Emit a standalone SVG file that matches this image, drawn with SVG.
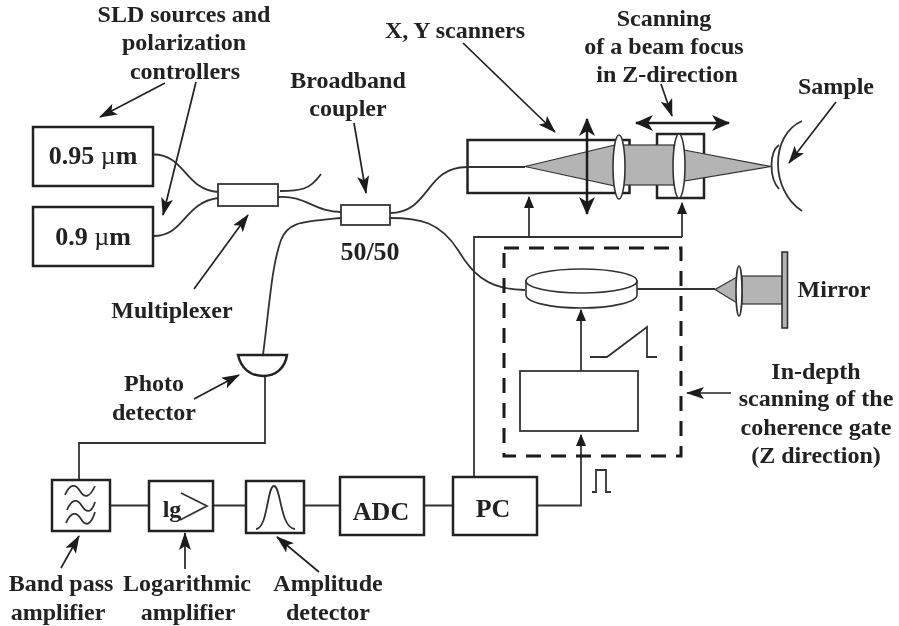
<svg xmlns="http://www.w3.org/2000/svg" width="899" height="626" viewBox="0 0 899 626">
<defs>
<marker id="ah" viewBox="0 0 18 12" refX="17" refY="6" markerWidth="18" markerHeight="12" markerUnits="userSpaceOnUse" orient="auto-start-reverse"><path d="M0 0L18 6L0 12L4 6Z" fill="#1a1a1a"/></marker>
<marker id="big" viewBox="0 0 18 16" refX="17" refY="8" markerWidth="18" markerHeight="16" markerUnits="userSpaceOnUse" orient="auto-start-reverse"><path d="M0 0L18 8L0 16L5 8Z" fill="#1a1a1a"/></marker>
<marker id="tri" viewBox="0 0 12 10" refX="11" refY="5" markerWidth="12" markerHeight="10" markerUnits="userSpaceOnUse" orient="auto"><path d="M0 0L12 5L0 10Z" fill="#1a1a1a"/></marker>
<filter id="soft" x="0" y="0" width="100%" height="100%"><feGaussianBlur stdDeviation="0.45"/></filter>
</defs>
<style>
text{font-family:"Liberation Serif","Times New Roman",serif;font-weight:bold;font-size:24px;fill:#222;text-anchor:middle}
.big{font-size:26px}
.b{fill:#fff;stroke:#222;stroke-width:2.5}
.t{fill:#fff;stroke:#333;stroke-width:1.8}
.l{fill:none;stroke:#333;stroke-width:1.8}
.a{fill:none;stroke:#222;stroke-width:1.7;marker-end:url(#ah)}
.u{fill:none;stroke:#333;stroke-width:1.8;marker-end:url(#tri)}
.g{fill:#b4b4b4;stroke:#333;stroke-width:1.2}
.w{fill:#fff;stroke:#333;stroke-width:1.6}
</style>
<rect width="899" height="626" fill="#fff"/>
<g filter="url(#soft)">
<g id="connectors">
<path class="l" d="M153 154.500C185 154 185 190 218 192"/>
<path class="l" d="M153 236C185 236 183 203 218 198"/>
<path class="l" d="M280 191C300 191 310 190 321 174"/>
<path class="l" d="M278 197C305 195 315 212 341 212"/>
<path class="l" d="M390 213C430 213 425 167 467 167"/>
<path class="l" d="M390 218C420 218 440 222 458 250C470 270 485 290 525 290"/>
<path class="l" d="M341 218C300 222 288 222 281 240C272 265 270 300 263 355"/>
<path class="l" d="M265 376V443H79V480"/>
<path class="l" d="M110 505.500H149M213 505.500H246M304 505.500H340M424 505.500H453"/>
<path class="l" d="M474 477V237H682"/>
<path class="u" d="M529 237V197"/>
<path class="u" d="M682 237V203"/>
<path class="u" d="M537 505.500H581V435"/>
<path class="u" d="M581 371V310"/>
<path class="l" d="M637 289H715"/>
<path class="a" d="M165 83L100 117"/>
<path class="a" d="M196 82L163 215"/>
<path class="a" d="M354 123L366 193"/>
<path class="a" d="M194 289L248 215"/>
<path class="a" d="M463 43L555 132"/>
<path class="a" d="M661 84L672 116"/>
<path class="a" d="M836 102L789 163"/>
<path class="a" d="M194 399L239 375"/>
<path class="a" d="M61 568L79 536"/>
<path class="a" d="M185 569V533"/>
<path class="a" d="M319 572L277 537"/>
<path class="a" d="M731 393H687"/>
</g>
<g id="source-095"><rect class="b" x="33" y="127" width="120" height="59"/><text class="big" x="93" y="164">0.95 <tspan font-weight="normal">µ</tspan>m</text></g>
<g id="source-09"><rect class="b" x="33" y="207" width="120" height="59"/><text class="big" x="93" y="245">0.9 <tspan font-weight="normal">µ</tspan>m</text></g>
<g id="multiplexer"><rect class="t" x="218" y="184" width="60" height="22"/></g>
<g id="coupler"><rect class="t" x="341" y="205" width="49" height="20"/></g>
<g id="scanner">
<rect class="b" x="467.500" y="140" width="162" height="53" fill="#fff"/>
<path class="l" d="M467 167H525"/>
<path class="g" d="M525 166.500L615 145V186Z"/>
</g>
<g id="focus-stage">
<rect class="b" x="657" y="134" width="47" height="64"/>
<rect class="g" x="622" y="145" width="52" height="40"/>
<path class="g" d="M684 150L771 166.500L684 181Z"/>
<ellipse class="w" cx="619" cy="167" rx="6" ry="32"/>
<ellipse class="w" cx="679" cy="166" rx="6" ry="32"/>
</g>
<g id="xy-arrow"><path d="M587 119V214" fill="none" stroke="#1a1a1a" stroke-width="2.500" marker-start="url(#big)" marker-end="url(#big)"/></g>
<g id="z-arrow"><path d="M636 123H729" fill="none" stroke="#1a1a1a" stroke-width="2.500" marker-start="url(#big)" marker-end="url(#big)"/></g>
<g id="sample"><path class="l" d="M802 121C770 135 770 190 802 211"/><path class="l" d="M779 145C769 152 769 178 779 189"/></g>
<g id="dashed-box"><rect x="504" y="248" width="177" height="208" fill="none" stroke="#1a1a1a" stroke-width="3" stroke-dasharray="15 10"/></g>
<g id="disk"><path class="w" d="M526 281V295C526 302 550 308 581 308C612 308 637 302 637 295V281Z"/><ellipse class="w" cx="581.500" cy="281" rx="55.500" ry="12"/></g>
<g id="mirror">
<rect class="g" x="742" y="276" width="40" height="28"/>
<path class="g" d="M715 289.500L737 277V303Z"/>
<ellipse class="w" cx="739" cy="291" rx="3" ry="25"/>
<rect x="782" y="252" width="5.500" height="76" fill="#b4b4b4" stroke="#333" stroke-width="1.600"/>
</g>
<g id="generator"><rect class="t" x="520" y="371" width="118" height="60"/>
<path class="l" d="M590 357H607L647 327V357H657"/>
<path class="l" d="M592 492H596V470H606V492H611"/></g>
<g id="detector"><path class="b" d="M238 355H287C285 368 276 376 263 376C250 376 241 368 238 355Z"/></g>
<g id="bandpass"><rect class="b" x="52" y="480" width="58" height="51"/>
<path class="l" d="M65 495C70 483 76 484 80 491C85 499 90 497 95 486M67 510C72 498 78 499 82 506C87 514 92 512 95 502M66 523C71 511 77 512 81 519C86 527 91 525 95 512"/></g>
<g id="log-amp"><rect class="b" x="149" y="481" width="64" height="50"/><path class="l" d="M181 493L207 506L180 520"/><text x="172" y="517">lg</text></g>
<g id="amp-det"><rect class="b" x="246" y="481" width="58" height="52"/><path class="l" d="M256 529C268 528 267 486 274 486C281 486 280 528 295 529"/></g>
<g id="adc"><rect class="b" x="340" y="477" width="84" height="58"/><text class="big" x="381" y="520">ADC</text></g>
<g id="pc"><rect class="b" x="453" y="477" width="84" height="58"/><text class="big" x="493" y="517">PC</text></g>
<g id="labels">
<text x="184" y="22">SLD sources and</text><text x="184" y="50">polarization</text><text x="185" y="79">controllers</text>
<text x="348" y="88">Broadband</text><text x="348" y="116">coupler</text>
<text x="455" y="38">X, Y scanners</text>
<text x="664" y="26">Scanning</text><text x="664" y="54">of a beam focus</text><text x="667" y="82">in Z-direction</text>
<text x="836" y="94">Sample</text>
<text class="big" x="370" y="260">50/50</text>
<text x="172" y="318">Multiplexer</text>
<text x="154" y="391">Photo</text><text x="154" y="420">detector</text>
<text x="834" y="297">Mirror</text>
<text x="816" y="379">In-depth</text><text x="816" y="406">scanning of the</text><text x="816" y="435">coherence gate</text><text x="816" y="463">(Z direction)</text>
<text x="61" y="591">Band pass</text><text x="58" y="620">amplifier</text>
<text x="187" y="591">Logarithmic</text><text x="188" y="620">amplifier</text>
<text x="328" y="591">Amplitude</text><text x="328" y="620">detector</text>
</g>
</g>
</svg>
